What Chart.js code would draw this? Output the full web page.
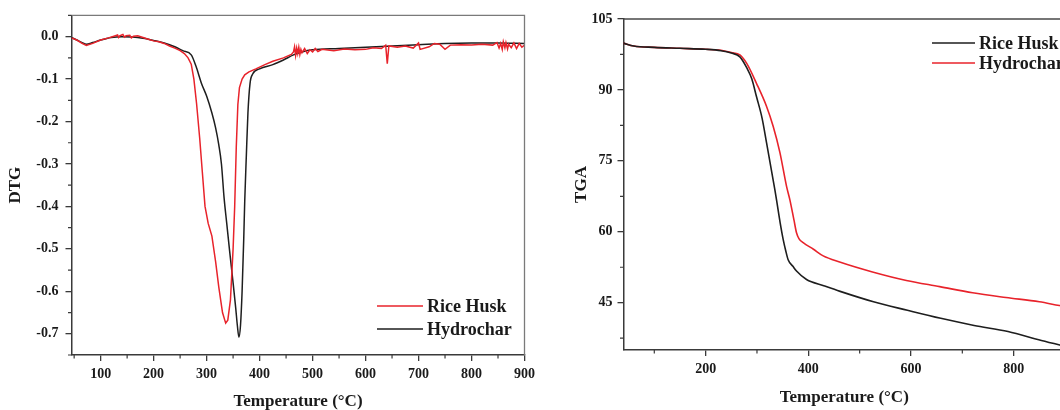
<!DOCTYPE html>
<html><head><meta charset="utf-8">
<script src="https://cdn.jsdelivr.net/npm/chart.js@4.4.0/dist/chart.umd.min.js"></script>
<style>
html,body{margin:0;padding:0;background:#fff;}
#wrap{position:relative;width:1060px;height:410px;overflow:hidden;background:#fff;}
#c1{position:absolute;left:0;top:0;}
#c2{position:absolute;left:540px;top:0;}
</style></head><body>
<div id="wrap"><canvas id="c1" width="540" height="410"></canvas><canvas id="c2" width="540" height="410"></canvas></div>
<script>
// ---------- DTG (left) ----------
const dtgRiceHuskT = [45,55,65,73,85,100,115,125,132,134,136,142,145,148,155,158,162,170,180,190,200,210,220,230,240,250,258,265,271,276,281,287,292,297,303,310,317,323,330,336,340,345,350,353,356,359,362,367,372,380,393,410,425,445,460,464,466,468,470,472,474,476,478,480,485,490,495,500,505,510,518,525,540,560,580,600,615,630,638,641,644,660,675,690,700,703,720,730,740,750,760,780,800,820,840,848,852,855,858,860,863,865,868,870,875,880,885,890,895,900];
const dtgRiceHusk = [-0.003,-0.008,-0.016,-0.021,-0.016,-0.008,-0.003,0.001,0.004,-0.002,0.002,0.005,-0.001,0.002,0.003,-0.003,0.001,0.002,-0.002,-0.006,-0.010,-0.012,-0.016,-0.022,-0.027,-0.033,-0.040,-0.050,-0.065,-0.100,-0.157,-0.240,-0.320,-0.400,-0.440,-0.470,-0.530,-0.590,-0.650,-0.675,-0.668,-0.620,-0.500,-0.400,-0.260,-0.160,-0.120,-0.100,-0.090,-0.083,-0.076,-0.066,-0.058,-0.050,-0.042,-0.036,-0.024,-0.044,-0.027,-0.040,-0.025,-0.042,-0.030,-0.038,-0.028,-0.040,-0.031,-0.036,-0.028,-0.035,-0.030,-0.031,-0.033,-0.029,-0.031,-0.030,-0.026,-0.028,-0.020,-0.064,-0.022,-0.025,-0.022,-0.027,-0.015,-0.030,-0.024,-0.016,-0.018,-0.030,-0.020,-0.019,-0.020,-0.018,-0.020,-0.014,-0.027,-0.016,-0.030,-0.012,-0.026,-0.014,-0.029,-0.018,-0.026,-0.015,-0.028,-0.016,-0.025,-0.020];
const dtgHydrocharT = [45,55,65,73,85,100,120,140,160,180,200,220,240,255,271,280,290,300,310,317,323,328,333,338,343,350,355,358,361,364,367,370,372,375,378,382,387,400,425,445,464,480,500,550,600,650,700,750,800,850,900];
const dtgHydrochar = [-0.002,-0.008,-0.014,-0.018,-0.014,-0.008,-0.002,0.000,-0.001,-0.004,-0.009,-0.015,-0.024,-0.033,-0.043,-0.070,-0.109,-0.140,-0.180,-0.215,-0.255,-0.300,-0.380,-0.440,-0.500,-0.580,-0.640,-0.680,-0.708,-0.680,-0.600,-0.480,-0.386,-0.280,-0.180,-0.110,-0.088,-0.076,-0.066,-0.055,-0.043,-0.036,-0.031,-0.028,-0.025,-0.022,-0.019,-0.016,-0.015,-0.015,-0.016];
const dtgXTicks = [100,200,300,400,500,600,700,800,900];
const dtgXMinor = [50,150,250,350,450,550,650,750,850];
const dtgYTicks = [-0.7,-0.6,-0.5,-0.4,-0.3,-0.2,-0.1,0.0];
const dtgYMinor = [-0.75,-0.65,-0.55,-0.45,-0.35,-0.25,-0.15,-0.05,0.05];

// ---------- TGA (right) ----------
const tgaRiceHuskT = [40,60,100,150,200,230,250,266.7,280,290,299,310,318.7,334.8,338,345,351,356,360.7,370,377,396.5,430,462,527,593,658,723,789,854,892,900];
const tgaRiceHusk = [99.9,99.3,99.0,98.8,98.6,98.3,97.8,97.0,94.7,92.3,88.6,84.0,78.8,68.9,66.8,62.0,58.4,56.0,54.1,52.7,51.7,49.9,48.6,47.4,45.2,43.4,41.7,40.2,38.9,37.0,36.0,35.8];
const tgaHydrocharT = [40,60,100,150,200,230,250,266.7,280,299,318.7,331.5,344.6,357.6,364,372,377,382,390,410,429,461,525,591,656,720,785,850,889,900];
const tgaHydrochar = [99.9,99.3,99.0,98.8,98.6,98.4,97.9,97.4,95.6,91.4,86.5,82.3,76.8,69.6,66.8,62.5,59.8,58.5,57.7,56.3,54.9,53.6,51.5,49.7,48.4,47.1,46.1,45.2,44.4,44.2];
const tgaXTicks = [200,400,600,800];
const tgaXMinor = [100,300,500,700,900];
const tgaYTicks = [45,60,75,90,105];
const tgaYMinor = [37.5,52.5,67.5,82.5,97.5];

const seriesNames = ['Rice Husk','Hydrochar'];
const RED = '#e8232b', BLACK = '#1e1e1e';
const SERIF = "'Liberation Serif','Times New Roman',serif";

function pts(xs, ys){ return xs.map((x,i)=>({x:x,y:ys[i]})); }

const decor = {
  id:'decor',
  afterDraw(chart, args, o){
    const {ctx, chartArea:a} = chart;
    const xs = chart.scales.x, ys = chart.scales.y;
    ctx.save();
    ctx.strokeStyle = o.frameColor; ctx.lineWidth = 1.3;
    ctx.beginPath();
    ctx.moveTo(a.left, a.top); ctx.lineTo(a.right, a.top); ctx.lineTo(a.right, a.bottom);
    ctx.stroke();
    ctx.strokeStyle = o.tickColor; ctx.lineWidth = 1.2;
    ctx.beginPath();
    o.xMinor.forEach(v=>{ if(v<xs.min||v>xs.max) return; const p=xs.getPixelForValue(v); ctx.moveTo(p,a.bottom); ctx.lineTo(p,a.bottom+3.5); });
    o.yMinor.forEach(v=>{ if(v<ys.min||v>ys.max) return; const p=ys.getPixelForValue(v); ctx.moveTo(a.left,p); ctx.lineTo(a.left-3.5,p); });
    ctx.stroke();
    // legend
    const L = o.legend;
    ctx.font = 'bold 18px ' + SERIF;
    ctx.textBaseline = 'middle';
    L.order.forEach((di, i)=>{
      const ds = chart.data.datasets[di];
      const y = L.y + i*L.gap;
      ctx.strokeStyle = ds.borderColor; ctx.lineWidth = 1.6;
      ctx.beginPath(); ctx.moveTo(L.x, y); ctx.lineTo(L.x+L.len, y); ctx.stroke();
      ctx.fillStyle = '#1a1a1a';
      ctx.fillText(ds.label, L.x+L.len+4, y+1);
    });
    ctx.restore();
  }
};

function makeChart(id, cfg){
  return new Chart(document.getElementById(id), {
    type:'line',
    data:{datasets:cfg.datasets},
    options:{
      responsive:false, animation:false,
      layout:{padding:cfg.padding},
      plugins:{legend:{display:false}, tooltip:{enabled:false}, decor:cfg.decor},
      elements:{point:{radius:0}, line:{borderWidth:1.5}},
      scales:{
        x:{type:'linear', min:cfg.xMin, max:cfg.xMax,
          afterBuildTicks:s=>{s.ticks = cfg.xTicks.map(v=>({value:v}));},
          afterFit:s=>{s.height = cfg.xHeight;},
          border:{display:true, color:'#3a3a3a', width:1.5},
          grid:{display:true, drawOnChartArea:false, drawTicks:true, tickLength:6, color:'#3a3a3a', lineWidth:1.3},
          ticks:{color:'#1a1a1a', padding:5, maxRotation:0, autoSkip:false, font:{family:SERIF, weight:'bold', size:14}, callback:v=>String(v)},
          title:{display:true, text:'Temperature (°C)', color:'#1a1a1a', font:{family:SERIF, weight:'bold', size:17, lineHeight:1}, padding:{top:0,bottom:cfg.xTitlePad}}
        },
        y:{type:'linear', min:cfg.yMin, max:cfg.yMax,
          afterBuildTicks:s=>{s.ticks = cfg.yTicks.map(v=>({value:v}));},
          afterFit:s=>{s.width = cfg.yWidth;},
          border:{display:true, color:'#3a3a3a', width:1.5},
          grid:{display:true, drawOnChartArea:false, drawTicks:true, tickLength:6, color:'#3a3a3a', lineWidth:1.3},
          ticks:{color:'#1a1a1a', padding:cfg.yTickPad, autoSkip:false, font:{family:SERIF, weight:'bold', size:14}, callback:cfg.yFmt},
          title:{display:true, text:cfg.yTitle, color:'#1a1a1a', font:{family:SERIF, weight:'bold', size:17, lineHeight:1}, padding:{top:cfg.yTitlePad,bottom:0}}
        }
      }
    },
    plugins:[decor]
  });
}

makeChart('c1', {
  datasets:[
    {label:seriesNames[0], data:pts(dtgRiceHuskT, dtgRiceHusk), borderColor:RED, borderWidth:1.5, tension:0},
    {label:seriesNames[1], data:pts(dtgHydrocharT, dtgHydrochar), borderColor:BLACK, borderWidth:1.5, cubicInterpolationMode:'monotone'}
  ],
  padding:{left:0, top:15, right:10, bottom:0},
  xMin:45, xMax:900, yMin:-0.75, yMax:0.05,
  xTicks:dtgXTicks, yTicks:dtgYTicks,
  xHeight:55, yWidth:71.5, yTickPad:7, xTitlePad:0, yTitlePad:7,
  yTitle:'DTG', yFmt:v=>v.toFixed(1),
  decor:{frameColor:'#7a7a7a', tickColor:'#3a3a3a', xMinor:dtgXMinor, yMinor:dtgYMinor,
    legend:{x:377, y:306, gap:23, len:46, order:[0,1]}}
});

makeChart('c2', {
  datasets:[
    {label:seriesNames[0], data:pts(tgaRiceHuskT, tgaRiceHusk), borderColor:BLACK, borderWidth:1.6, cubicInterpolationMode:'monotone'},
    {label:seriesNames[1], data:pts(tgaHydrocharT, tgaHydrochar), borderColor:RED, borderWidth:1.6, cubicInterpolationMode:'monotone'}
  ],
  padding:{left:0, top:19, right:15, bottom:0},
  xMin:40, xMax:900, yMin:35, yMax:105,
  xTicks:tgaXTicks, yTicks:tgaYTicks,
  xHeight:60, yWidth:83.5, yTickPad:5, xTitlePad:4, yTitlePad:33,
  yTitle:'TGA', yFmt:v=>String(v),
  decor:{frameColor:'#4a4a4a', tickColor:'#3a3a3a', xMinor:tgaXMinor, yMinor:tgaYMinor,
    legend:{x:392, y:43, gap:20, len:43, order:[0,1]}}
});
</script>
</body></html>
